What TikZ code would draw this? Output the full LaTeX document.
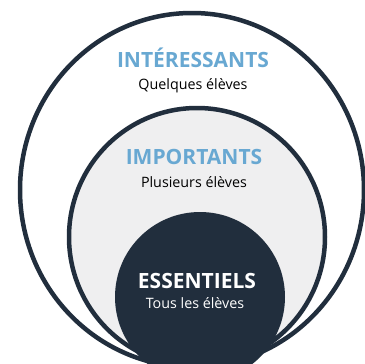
\documentclass[tikz,border=0pt]{standalone}
\usepackage{fontspec}
\setmainfont{Open Sans}
\usepackage{tikz}
\usetikzlibrary{positioning}
\definecolor{marine}{RGB}{33,46,61}
\definecolor{ciel}{RGB}{104,168,210}
\definecolor{gris}{RGB}{239,239,240}
\tikzset{
  anneau/.style={draw=marine,line width=4.5pt},
  titre/.style={font=\bfseries\fontsize{21}{21}\selectfont,inner sep=0pt,anchor=base},
  sous/.style={font=\fontsize{14.3}{14.3}\selectfont,inner sep=0pt,anchor=base}
}
\begin{document}
\begin{tikzpicture}[line cap=round,line join=round,x=1pt,y=-1pt]
\useasboundingbox (0,0) rectangle (365,364);
\clip (0,0) rectangle (365,364);
\fill[white] (0,0) rectangle (365,364);
% cercles
\draw[anneau,fill=white] (192,190) ellipse [x radius=172,y radius=177];
\draw[anneau,fill=gris] (197,237) ellipse [x radius=128,y radius=129];
\fill[marine] (200,297) circle [radius=85];
% textes
\node[titre,text=ciel] (interessants) at (193,67) {INTÉRESSANTS};
\node[sous] (quelques) at (193,89) {Quelques élèves};
\node[titre,text=ciel] (importants) at (194,164) {IMPORTANTS};
\node[sous] (plusieurs) at (194,187) {Plusieurs élèves};
\node[titre,text=white] (essentiels) at (197,288) {ESSENTIELS};
\node[sous,text=white] (tous) at (195,308) {Tous les élèves};
\end{tikzpicture}
\end{document}
